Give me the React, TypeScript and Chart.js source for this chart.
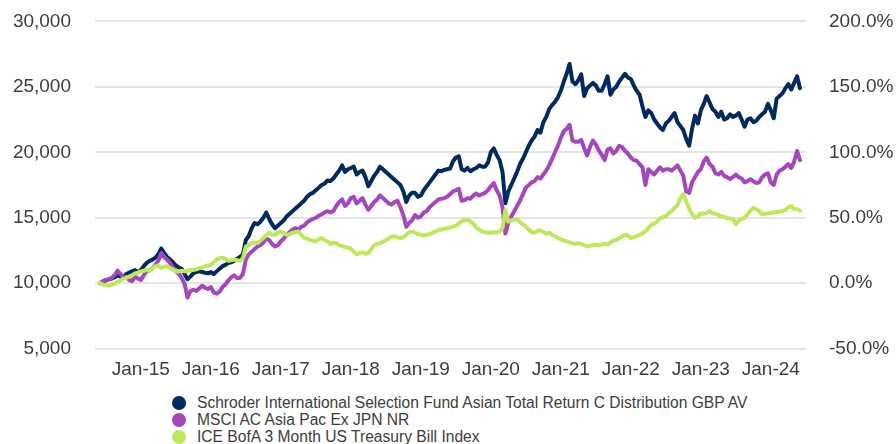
import React, { useEffect, useRef } from 'react';
import { Chart, registerables } from 'chart.js';

Chart.register(...registerables);

// ---------- categories (one point at the start and one at mid-month) ----------
const MONTH_NAMES = ['Jan', 'Feb', 'Mar', 'Apr', 'May', 'Jun', 'Jul', 'Aug', 'Sep', 'Oct', 'Nov', 'Dec'];
const START_MONTH = 5; // June
const START_YEAR = 2014;
const MONTH_COUNT = 121; // Jun-14 .. Jun-24

const CATEGORIES: string[] = [];
for (let i = 0; i < MONTH_COUNT; i++) {
  const m = (START_MONTH + i) % 12;
  const y = START_YEAR + Math.floor((START_MONTH + i) / 12);
  const lab = `${MONTH_NAMES[m]}-${String(y % 100).padStart(2, '0')}`;
  CATEGORIES.push(lab);
  if (i < MONTH_COUNT - 1) CATEGORIES.push(`15 ${lab}`);
}

const TICK_LABELS = ['Jan-15', 'Jan-16', 'Jan-17', 'Jan-18', 'Jan-19', 'Jan-20', 'Jan-21', 'Jan-22', 'Jan-23', 'Jan-24'];

const LEFT_MIN = 5000;
const LEFT_MAX = 30000;
const LEFT_STEP = 5000;
const RIGHT_MIN = -50;
const RIGHT_MAX = 200;
const RIGHT_STEP = 50;

// ---------- series ----------
const SCHRODER_FUND = [
  10000, 10100, 10200, 10300, 10350, 10450, 10600, 10500, 10450, 10700, 10800, 10900, 11000, 10850,
  11000, 11300, 11550, 11700, 11800, 11950, 12200, 12650, 12300, 12000, 11800, 11600, 11350, 11200,
  11100, 10700, 10300, 10500, 10750, 10850, 10900, 10850, 10800, 10750,
  10850, 10700, 10900, 11100, 11300, 11400, 11550, 11600, 11700, 11850, 12000, 12200, 13300, 13600,
  14200, 14600, 14500, 14700, 15000, 15400, 14900, 14500, 14200, 14400,
  14600, 14800, 15100, 15300, 15500, 15700, 15900, 16100, 16300, 16600, 16800, 16900, 17100, 17300,
  17500, 17600, 17850, 17800, 18000, 18300, 18600, 19000, 18500, 18700,
  18800, 18900, 18300, 18500, 18600, 18100, 17400, 17800, 18200, 18500, 18900, 18700, 18500, 18300,
  18100, 17900, 17700, 17500, 17000, 16200, 16700, 16900, 16900, 16600,
  16700, 17100, 17400, 17700, 18000, 18300, 18600, 18550, 18650, 18700, 18750, 19300, 19600, 19700,
  18700, 18600, 18800, 18550, 18700, 18800, 19000, 18900, 18900, 19200,
  20000, 20300, 19800, 19400, 18500, 16100, 17000, 17500, 18000, 18500, 19100, 19500, 20000, 20500,
  20900, 21200, 21700, 21500, 22300, 22700, 23300, 23600, 23850, 24200,
  24700, 25400, 26000, 26750, 25400, 25200, 25500, 25950, 24300, 24900, 25100, 25300, 25100, 24700,
  24700, 25200, 25800, 24400, 24800, 25000, 25400, 25700, 26000, 25700,
  25600, 25100, 24700, 24400, 23500, 22700, 23200, 23000, 22500, 22200, 21900, 21700, 22200, 22400,
  22700, 23000, 22300, 22000, 21700, 21000, 20500, 21800, 22800, 22200,
  23200, 23700, 24300, 23800, 23300, 23100, 22700, 23100, 22500, 22600, 22900, 22700, 22800, 23000,
  22500, 21950, 22500, 22600, 22300, 22400, 22700, 22900, 23100, 23700,
  23200, 22600, 24100, 24300, 24500, 24900, 25200, 24800, 25300, 25800, 24900,
];

const MSCI_ASIA = [
  10000, 10150, 10250, 10300, 10400, 10600, 10950, 10700, 10400, 10500, 10250, 10150, 10500, 10350,
  10250, 10600, 10900, 11000, 11150, 11400, 11700, 12300, 12000, 11800, 11550, 11200, 10900, 10700,
  10400, 9950, 8900, 9400, 9500, 9400, 9600, 9800, 9650, 9550,
  9700, 9300, 9200, 9350, 9700, 9900, 10200, 10450, 10600, 10400, 10400, 10700, 11800, 12200,
  12400, 12600, 12800, 12900, 13100, 13400, 13300, 13000, 12800, 12900,
  13200, 13400, 13700, 13900, 14100, 14200, 14100, 14300, 14400, 14650, 14800, 14900, 15000, 15150,
  15250, 15400, 15500, 15400, 15500, 15900, 16200, 16400, 15900, 16100,
  16500, 16600, 16100, 16300, 16500, 16000, 15600, 15900, 16200, 16400, 16700, 16500, 16300, 16100,
  16000, 16200, 16300, 15800, 15200, 14300, 14600, 14800, 15200, 15000,
  15100, 15400, 15500, 15800, 16000, 16200, 16400, 16450, 16500, 16600, 16800, 17000, 17100, 17200,
  16300, 16350, 16500, 16450, 16700, 16850, 16700, 16800, 16900, 17100,
  17400, 17650, 17100, 16700, 15800, 13800, 14600, 15100, 15500, 15900, 16300, 16800, 17300, 17500,
  17700, 17800, 18100, 18000, 18300, 18600, 19000, 19500, 20000, 20500,
  21100, 21600, 21800, 22100, 20900, 20800, 20800, 20950, 20300, 19750, 20400, 20900, 20600, 20150,
  19800, 19400, 20200, 20300, 19900, 20100, 20500, 20400, 20100, 19900,
  19600, 19400, 19350, 19100, 18850, 17500, 18700, 18500, 18300, 18600, 18850, 18600, 18700, 18700,
  18600, 18800, 19000, 18600, 18200, 17000, 16900, 17700, 18100, 18500,
  18700, 19300, 19600, 19100, 18900, 18400, 18300, 18500, 18200, 18100, 17950, 18100, 18300, 18100,
  18000, 17700, 17800, 17950, 17800, 17650, 17700, 18100, 18300, 18400,
  17700, 17500, 18300, 18600, 18700, 18900, 19100, 18800, 19300, 20100, 19400,
];

const ICE_TBILL = [
  10000, 9900, 9850, 9800, 9900, 9950, 10100, 10200, 10350, 10400, 10500, 10600, 10750, 10800,
  10900, 10950, 11000, 10950, 11150, 11300, 11350, 11150, 11250, 11300, 11150, 11050, 10900, 10900,
  10950, 10900, 10950, 11000, 11000, 11050, 11150, 11200, 11300, 11350,
  11400, 11600, 11800, 11900, 11950, 11850, 11700, 11750, 11800, 11750, 11700, 11900, 12800, 12900,
  13050, 13100, 13050, 13250, 13450, 13650, 13850, 13700, 13700, 13850,
  13950, 13800, 13700, 13750, 13850, 13900, 13950, 13700, 13450, 13400, 13300, 13250, 13200, 13350,
  13450, 13300, 13200, 13000, 13100, 13050, 12900, 12850, 12750, 12700,
  12650, 12400, 12200, 12300, 12350, 12250, 12300, 12600, 12900, 13000, 13050, 13150, 13300, 13400,
  13550, 13600, 13500, 13450, 13500, 13700, 13900, 13950, 13850, 13750,
  13700, 13650, 13700, 13750, 13850, 13950, 14050, 14100, 14150, 14200, 14250, 14300, 14400, 14550,
  14750, 14800, 14850, 14700, 14550, 14250, 14100, 13950, 13900, 13850,
  13850, 13900, 13850, 13950, 14200, 15600, 14700, 14800, 14850, 14900, 14650, 14500, 14300, 14100,
  13900, 13850, 14000, 14050, 13900, 13800, 13850, 13700, 13600, 13450,
  13350, 13250, 13200, 13100, 13050, 13000, 13050, 13000, 12900, 12800, 12850, 12900, 12950, 12900,
  12950, 13000, 12950, 13100, 13250, 13300, 13450, 13550, 13700, 13650,
  13450, 13500, 13600, 13700, 13800, 13950, 14200, 14450, 14550, 14700, 14950, 15050, 15100, 15350,
  15500, 15750, 15950, 16500, 16800, 16250, 15700, 15250, 15000, 15100,
  15350, 15300, 15350, 15500, 15350, 15300, 15200, 15100, 15050, 14950, 14950, 14900, 14500, 14800,
  14900, 15000, 15250, 15550, 15750, 15650, 15500, 15250, 15300, 15350,
  15350, 15400, 15450, 15450, 15500, 15600, 15800, 15900, 15650, 15650, 15550,
];

const SERIES_NAMES = [
  'Schroder International Selection Fund Asian Total Return C Distribution GBP AV',
  'MSCI AC Asia Pac Ex JPN NR',
  'ICE BofA 3 Month US Treasury Bill Index',
];
const SERIES_VALUES = [SCHRODER_FUND, MSCI_ASIA, ICE_TBILL];
const SERIES_COLORS = ['#002a5e', '#a446be', '#bfe75c'];

const FONT_FAMILY = '"Liberation Sans", Arial, Helvetica, sans-serif';
const TEXT_COLOR = '#3d3d3d';
const GRID_COLOR = '#e4e4e4';

export default function App() {
  const canvasRef = useRef<HTMLCanvasElement | null>(null);

  useEffect(() => {
    const canvas = canvasRef.current;
    if (!canvas) return;
    const chart = new Chart(canvas, {
      type: 'line',
      data: {
        labels: CATEGORIES,
        datasets: SERIES_VALUES.map((vals, k) => ({
          label: SERIES_NAMES[k],
          data: vals,
          borderColor: SERIES_COLORS[k],
          backgroundColor: SERIES_COLORS[k],
          borderWidth: 4,
          pointRadius: 0,
          tension: 0,
          borderJoinStyle: 'round' as const,
          borderCapStyle: 'round' as const,
          yAxisID: 'y',
          order: SERIES_VALUES.length - k,
        })),
      },
      options: {
        responsive: false,
        animation: false,
        events: [],
        layout: { padding: { top: 0, left: 0, right: 0, bottom: 0 } },
        plugins: {
          legend: { display: false },
          tooltip: { enabled: false },
        },
        scales: {
          x: {
            type: 'category',
            grid: { display: false },
            border: { display: false },
            ticks: {
              autoSkip: false,
              maxRotation: 0,
              minRotation: 0,
              padding: 2,
              color: TEXT_COLOR,
              font: { family: FONT_FAMILY, size: 19 },
              callback: (_v: any, index: number) => {
                const lab = CATEGORIES[index];
                return TICK_LABELS.includes(lab) ? lab : null;
              },
            },
          },
          y: {
            position: 'left',
            min: LEFT_MIN,
            max: LEFT_MAX,
            border: { display: false },
            grid: { color: GRID_COLOR, lineWidth: 2, tickLength: 5 },
            ticks: {
              stepSize: LEFT_STEP,
              padding: 24,
              color: TEXT_COLOR,
              font: { family: FONT_FAMILY, size: 19 },
              callback: (v: any) => Number(v).toLocaleString('en-US'),
            },
            afterFit: (s: any) => {
              s.width = 100;
            },
          },
          y2: {
            position: 'right',
            min: RIGHT_MIN,
            max: RIGHT_MAX,
            border: { display: false },
            grid: { color: GRID_COLOR, lineWidth: 2, tickLength: 6, drawOnChartArea: false },
            ticks: {
              stepSize: RIGHT_STEP,
              padding: 23,
              color: TEXT_COLOR,
              font: { family: FONT_FAMILY, size: 19 },
              callback: (v: any) => `${Number(v).toFixed(1)}%`,
            },
            afterFit: (s: any) => {
              s.width = 96;
            },
          },
        },
      } as any,
    });
    return () => chart.destroy();
  }, []);

  return (
    <div style={{ position: 'absolute', left: 0, top: 0, width: 896, height: 444, overflow: 'hidden', background: '#fff' }}>
      <canvas
        ref={canvasRef}
        width={896}
        height={398}
        style={{ position: 'absolute', left: 0, top: -14, display: 'block', width: 896, height: 398 }}
      />
      <div
        style={{
          position: 'absolute',
          left: 172,
          top: 394,
          fontFamily: FONT_FAMILY,
          fontSize: 15.6,
          color: TEXT_COLOR,
        }}
      >
        {SERIES_NAMES.map((name, k) => (
          <div key={name} style={{ display: 'flex', alignItems: 'center', height: 17, lineHeight: '17px', whiteSpace: 'nowrap' }}>
            <span
              style={{
                display: 'inline-block',
                width: 14,
                height: 14,
                borderRadius: '50%',
                background: SERIES_COLORS[k],
                marginRight: 11,
                flex: 'none',
              }}
            />
            <span>{name}</span>
          </div>
        ))}
      </div>
    </div>
  );
}
